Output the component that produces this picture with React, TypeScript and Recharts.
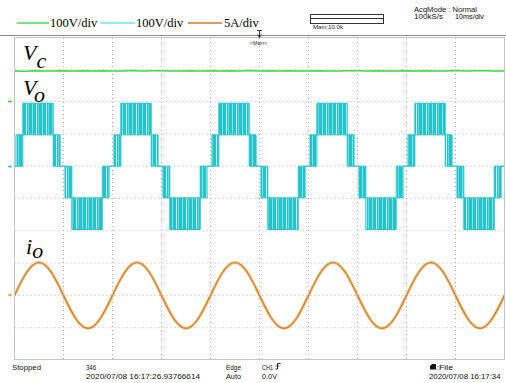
import React from 'react';
import { ComposedChart, Line, Area, XAxis, YAxis, ReferenceLine, CartesianGrid } from 'recharts';

// time base 10 ms/div, 10 divisions across the screen
const timeTicksMs = [10, 20, 30, 40, 50, 60, 70, 80, 90];
// horizontal divisions, expressed on the CH2 scale (100 V/div)
const gridVolts = [-500, -400, -300, -200, -100, 0, 100, 200, 300];

// CH1  Vc  (100 V/div, ground 3 div above centre)
const vcMs = [
  0, 2, 4, 6, 8, 10, 12, 14, 16, 18, 20, 22, 24, 26, 28, 30, 32, 34, 36, 38, 40, 42, 44, 46, 48, 50,
  52, 54, 56, 58, 60, 62, 64, 66, 68, 70, 72, 74, 76, 78, 80, 82, 84, 86, 88, 90, 92, 94, 96, 98, 100,
];
const vcVolts = [
  95, 94.2, 95.6, 95, 94.6, 95.8, 94.9, 95.3, 94.4, 95.5, 95, 94.7, 95.9, 94.8, 95.2, 95.6, 94.5, 95.1, 95.7, 94.9, 95.3,
  94.6, 95.4, 95, 96, 94.8, 95.2, 94.5, 95.6, 95.1, 94.7, 95.5, 95, 94.4, 95.8, 95.2, 94.9, 95.4, 94.6, 95.1, 95.7,
  94.8, 95.3, 95, 94.5, 96.3, 94.9, 95.2, 95.5, 94.7, 95,
];

// CH2  Vo  (100 V/div, ground 1 div above centre) - PWM bands: [low, high] from each edge
const voEdgeMs = [
  0, 0.3, 1.7, 7.9, 9.3, 10.3, 11.7, 17.9, 19.3, 20.3, 21.7, 27.9, 29.3, 30.3, 31.7, 37.9, 39.3, 40.3, 41.7, 47.9, 49.3,
  50.3, 51.7, 57.9, 59.3, 60.3, 61.7, 67.9, 69.3, 70.3, 71.7, 77.9, 79.3, 80.3, 81.7, 87.9, 89.3, 90.3, 91.7, 97.9, 99.3, 100,
];
const voLowV = [
  0, 0, 97, 0, 0, -98, -196, -98, 0, 0, 97, 0, 0, -98, -196, -98, 0, 0, 97, 0, 0,
  -98, -196, -98, 0, 0, 97, 0, 0, -98, -196, -98, 0, 0, 97, 0, 0, -98, -196, -98, 0, 0,
];
const voHighV = [
  0, 97, 195, 97, 0, 0, -98, 0, 0, 97, 195, 97, 0, 0, -98, 0, 0, 97, 195, 97, 0,
  0, -98, 0, 0, 97, 195, 97, 0, 0, -98, 0, 0, 97, 195, 97, 0, 0, -98, 0, 0, 0,
];

// CH3  io  (5 A/div, ground 3 div below centre)
const ioMs = [
  0, 2.5, 5, 7.5, 10, 12.5, 15, 17.5, 20, 22.5, 25, 27.5, 30, 32.5, 35, 37.5, 40, 42.5, 45, 47.5, 50,
  52.5, 55, 57.5, 60, 62.5, 65, 67.5, 70, 72.5, 75, 77.5, 80, 82.5, 85, 87.5, 90, 92.5, 95, 97.5, 100,
];
const ioAmps = [
  0, 3.6, 5.1, 3.6, 0, -3.6, -5.1, -3.6, 0, 3.6, 5.1, 3.6, 0, -3.6, -5.1, -3.6, 0, 3.6, 5.1, 3.6, 0,
  -3.6, -5.1, -3.6, 0, 3.6, 5.1, 3.6, 0, -3.6, -5.1, -3.6, 0, 3.6, 5.1, 3.6, 0, -3.6, -5.1, -3.6, 0,
];

type Row = { t: number; vc?: number; vo?: [number, number]; io?: number };

const rows = new Map<number, Row>();
const rowAt = (t: number) => {
  let r = rows.get(t);
  if (!r) {
    r = { t };
    rows.set(t, r);
  }
  return r;
};
vcMs.forEach((t, i) => { rowAt(t).vc = vcVolts[i]; });
voEdgeMs.forEach((t, i) => { rowAt(t).vo = [voLowV[i], voHighV[i]]; });
ioMs.forEach((t, i) => { rowAt(t).io = ioAmps[i]; });
const chartData = Array.from(rows.values()).sort((a, b) => a.t - b.t);

const GREEN = '#3ad83a';
const CYAN = '#1cc5cc';
const ORANGE = '#d8892b';
const GRID = '#b4b4b4';

const small = { fontFamily: 'Liberation Sans', fontSize: 8, fill: '#111' } as const;
const tiny = { fontFamily: 'Liberation Sans', fontSize: 6.8, fill: '#111' } as const;

// plot frame on the page (10 x 49 px divisions)
const FRAME_LEFT = 14.5;
const DIV_W = 49;

// vertical division lines placed through the x scale
const verticalDivs = (props: any) => {
  const scale = props?.xAxis?.scale;
  return typeof scale === 'function' ? timeTicksMs.map((t) => scale(t)) : [];
};

export default function App() {
  return (
    <div style={{ position: 'absolute', left: 0, top: 0, width: 506, height: 383, background: '#fff', overflow: 'hidden' }}>
      <ComposedChart
        width={506}
        height={383}
        data={chartData}
        margin={{ top: 37, right: 1.5, bottom: 23, left: FRAME_LEFT }}
      >
        <defs>
          <pattern id="pwmStripes" width="10" height="10" patternUnits="userSpaceOnUse">
            <rect width="10" height="10" fill="#21c4cb" />
            <rect x="2" width="1" height="10" fill="#86e0e4" />
            <rect x="6" width="1" height="10" fill="#e4f9fa" />
            <rect x="8" width="1" height="10" fill="#6fd9de" />
          </pattern>
        </defs>
        <XAxis dataKey="t" type="number" domain={[0, 100]} ticks={timeTicksMs} hide allowDataOverflow />
        <YAxis yAxisId="vc" type="number" domain={[-800, 200]} hide allowDataOverflow />
        <YAxis yAxisId="vo" type="number" domain={[-600, 400]} hide allowDataOverflow />
        <YAxis yAxisId="io" type="number" domain={[-10, 40]} hide allowDataOverflow />
        <CartesianGrid
          yAxisId="vo"
          horizontal={false}
          verticalCoordinatesGenerator={verticalDivs}
          stroke={GRID}
          strokeDasharray="1 3"
        />
        {gridVolts.map((v) => (
          <ReferenceLine key={`y${v}`} y={v} yAxisId="vo" stroke={GRID} strokeWidth={1} strokeDasharray="1 3" />
        ))}
        <Line
          yAxisId="vc"
          dataKey="vc"
          type="linear"
          stroke={GREEN}
          strokeWidth={1.5}
          dot={false}
          activeDot={false}
          connectNulls
          isAnimationActive={false}
        />
        <Area
          yAxisId="vo"
          dataKey="vo"
          type="stepAfter"
          stroke={CYAN}
          strokeWidth={1}
          fill="url(#pwmStripes)"
          fillOpacity={1}
          dot={false}
          activeDot={false}
          connectNulls
          isAnimationActive={false}
        />
        <Line
          yAxisId="io"
          dataKey="io"
          type="natural"
          stroke={ORANGE}
          strokeOpacity={0.35}
          strokeWidth={3.4}
          dot={false}
          activeDot={false}
          connectNulls
          isAnimationActive={false}
        />
        <Line
          yAxisId="io"
          dataKey="io"
          type="natural"
          stroke={ORANGE}
          strokeWidth={1.6}
          dot={false}
          activeDot={false}
          connectNulls
          isAnimationActive={false}
        />
      </ComposedChart>

      <svg width={506} height={383} style={{ position: 'absolute', left: 0, top: 0, pointerEvents: 'none' }}>
        {/* screen frame and vertical divisions */}
        <line x1={0} y1={35.5} x2={506} y2={35.5} stroke="#8a8a8a" strokeWidth={1} />
        <rect x={FRAME_LEFT} y={37.5} width={490} height={322} fill="none" stroke="#c4c4c4" strokeWidth={1} />
        {timeTicksMs.map((t, i) => (
          <line
            key={`v${t}`}
            x1={FRAME_LEFT + (i + 1) * DIV_W}
            y1={38}
            x2={FRAME_LEFT + (i + 1) * DIV_W}
            y2={359}
            stroke={GRID}
            strokeWidth={1}
            strokeDasharray="1 3"
          />
        ))}

        <line x1={17} y1={23} x2={49} y2={23} stroke="#55dd55" strokeWidth={1.6} />
        <text x={50} y={27} style={{ fontFamily: 'Liberation Serif', fontSize: 12.5 }}>100V/div</text>
        <line x1={101} y1={23} x2={135} y2={23} stroke="#6ee3ea" strokeWidth={1.6} />
        <text x={136} y={27} style={{ fontFamily: 'Liberation Serif', fontSize: 12.5 }}>100V/div</text>
        <line x1={188} y1={23} x2={222} y2={23} stroke="#cf7c22" strokeWidth={1.6} />
        <text x={224} y={27} style={{ fontFamily: 'Liberation Serif', fontSize: 12.5 }}>5A/div</text>

        <rect x={310.5} y={14.5} width={73} height={9} fill="none" stroke="#333" strokeWidth={1} />
        <line x1={311} y1={18.5} x2={383} y2={18.5} stroke="#333" strokeWidth={1} />
        <text x={313} y={29} textLength={30} lengthAdjust="spacingAndGlyphs" style={{ fontFamily: 'Liberation Sans', fontSize: 5, fill: '#222' }}>Main:10.0k</text>

        <text x={414} y={11.5} textLength={63} lengthAdjust="spacingAndGlyphs" style={tiny}>AcqMode : Normal</text>
        <text x={414} y={19.2} textLength={29} lengthAdjust="spacingAndGlyphs" style={tiny}>100kS/s</text>
        <text x={455} y={19.2} textLength={29} lengthAdjust="spacingAndGlyphs" style={tiny}>10ms/div</text>

        {/* trigger position */}
        <path d="M257 30.5 H262 M259.5 30.5 V37 M257.5 34.5 L259.5 37.5 L261.5 34.5" stroke="#333" strokeWidth={1} fill="none" />
        <text x={250} y={45} textLength={17} lengthAdjust="spacingAndGlyphs" style={{ fontFamily: 'Liberation Sans', fontSize: 4.5, fill: '#333' }}>&lt;Main&gt;</text>

        {/* ground markers */}
        <path d="M8 101.5 H12 M10 100 V103" stroke={GREEN} strokeWidth={1} />
        <path d="M8 166.5 H12 M10 165 V168" stroke={CYAN} strokeWidth={1} />
        <path d="M8 295 H12 M10 293.5 V296.5" stroke={ORANGE} strokeWidth={1} />

        {/* trace labels */}
        <text x={23} y={60} style={{ fontFamily: 'Liberation Serif', fontStyle: 'italic', fontSize: 22 }}>
          V<tspan dy={8}>c</tspan>
        </text>
        <text x={23} y={95} style={{ fontFamily: 'Liberation Serif', fontStyle: 'italic', fontSize: 22 }}>
          V<tspan dy={7}>o</tspan>
        </text>
        <text x={26} y={254} style={{ fontFamily: 'Liberation Serif', fontStyle: 'italic', fontSize: 22 }}>
          i<tspan dy={4}>o</tspan>
        </text>

        {/* footer */}
        <text x={12} y={369.5} textLength={29} lengthAdjust="spacingAndGlyphs" style={small}>Stopped</text>
        <text x={86} y={369.5} textLength={10} lengthAdjust="spacingAndGlyphs" style={small}>346</text>
        <text x={86} y={379} textLength={114} lengthAdjust="spacingAndGlyphs" style={small}>2020/07/08 16:17:26.93766614</text>
        <text x={226} y={369.5} textLength={15} lengthAdjust="spacingAndGlyphs" style={small}>Edge</text>
        <text x={226} y={379} textLength={15} lengthAdjust="spacingAndGlyphs" style={small}>Auto</text>
        <text x={262} y={369.5} textLength={11} lengthAdjust="spacingAndGlyphs" style={small}>CH1</text>
        <path d="M275.5 369 H277.5 V363.5 H280.5 M276 366.5 L277.5 365 L279 366.5" stroke="#111" strokeWidth={0.9} fill="none" />
        <text x={262} y={379} textLength={15} lengthAdjust="spacingAndGlyphs" style={small}>0.0V</text>
        <path d="M430 369.5 V366 L432 364 H436 V369.5 Z" fill="#111" />
        <text x={436.5} y={369.5} textLength={16.5} lengthAdjust="spacingAndGlyphs" style={small}>:File</text>
        <text x={429} y={379} textLength={71.5} lengthAdjust="spacingAndGlyphs" style={small}>2020/07/08 16:17:34</text>
      </svg>
    </div>
  );
}
